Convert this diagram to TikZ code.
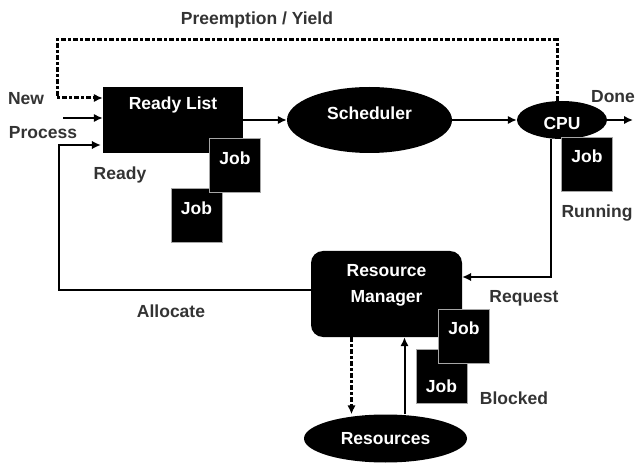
\documentclass[tikz,border=0pt]{standalone}
\usepackage{fontspec}
\setmainfont{Liberation Sans}
\usetikzlibrary{shapes.geometric,arrows.meta}

\begin{document}
\begin{tikzpicture}[x=1pt,y=-1pt,>={Latex[length=9pt,width=8.5pt]},
  every node/.style={font=\fontsize{17.5}{21}\selectfont\bfseries},
  lbl/.style={text=black!80},
  blk/.style={fill=black,text=white,inner sep=0pt},
  job/.style={blk,draw=gray!70,line width=.8pt,minimum width=51pt,minimum height=54pt},
  oval/.style={blk,ellipse},
  intxt/.style={text=white,inner sep=0pt},
  yield/.style={line width=3pt,dash pattern=on 5pt off 2pt on 3pt off 2pt},
  flow/.style={line width=2pt,->},
  back/.style={line width=1.5pt,->}]
\useasboundingbox (0,0) rectangle (635,465);

\node[blk,minimum width=140pt,minimum height=66pt,label={[intxt,yshift=15pt]center:Ready List}] (ready) at (173,120) {};
\node[job,label={[intxt,yshift=7pt]center:Job}] (rjob2) at (196.5,215) {};
\node[job,label={[intxt,yshift=7pt]center:Job}] (rjob1) at (235,165) {};
\node[oval,minimum width=165pt,minimum height=66pt,label={[intxt,yshift=7pt]center:Scheduler}] (sched) at (369.5,120) {};
\node[oval,minimum width=90pt,minimum height=38pt,label={[intxt,yshift=-3pt]center:CPU}] (cpu) at (562,120) {};
\node[job,label={[intxt,yshift=8pt]center:Job}] (cjob) at (587,164) {};
\node[blk,rounded corners=12pt,minimum width=151pt,minimum height=86pt,
  label={[intxt,align=center,font=\fontsize{17.5}{26}\selectfont\bfseries,yshift=9pt]center:{Resource\\Manager}}] (rm) at (386.5,294) {};
\node[job,label={[intxt,yshift=-10pt]center:Job}] (mjob2) at (441.5,376) {};
\node[job,label={[intxt,yshift=8.5pt]center:Job}] (mjob1) at (464,336.5) {};
\node[oval,minimum width=163pt,minimum height=48pt,label={[intxt]center:Resources}] (res) at (385.5,438.5) {};

\node[lbl] (title) at (257,20) {Preemption / Yield};
\node[lbl] (new) at (26,99) {New};
\node[lbl] (proc) at (43,133) {Process};
\node[lbl] (rdy) at (120,175) {Ready};
\node[lbl] (done) at (613,97) {Done};
\node[lbl] (run) at (597,213) {Running};
\node[lbl] (req) at (524,298) {Request};
\node[lbl] (blkd) at (514,398) {Blocked};
\node[lbl] (alloc) at (171,311) {Allocate};

\coordinate (pre) at (57,40);
\coordinate (newin) at (63,118);
\coordinate (fbk) at (59,145);
\coordinate (out) at (633,120);

\draw[yield,->] ([xshift=-5pt]cpu.north) |- (pre) |- ([yshift=22pt]ready.west);
\draw[flow] (newin) -- (newin -| ready.west);
\draw[flow] (ready) -- (sched);
\draw[flow] (sched) -- (cpu);
\draw[flow] (cpu) -- (out);
\draw[back] ([xshift=-11pt]cpu.south) |- ([yshift=17pt]rm.east);
\draw[back,shorten >=2pt] ([yshift=4pt]rm.west) -| (fbk) -- (fbk -| ready.west);
\draw[yield,->] ([xshift=-35pt]rm.south) -- ([xshift=-35pt]rm.south |- res.north);
\draw[flow] ([xshift=19pt]res.north) -- ([xshift=19pt]res.north |- rm.south);
\end{tikzpicture}
\end{document}
